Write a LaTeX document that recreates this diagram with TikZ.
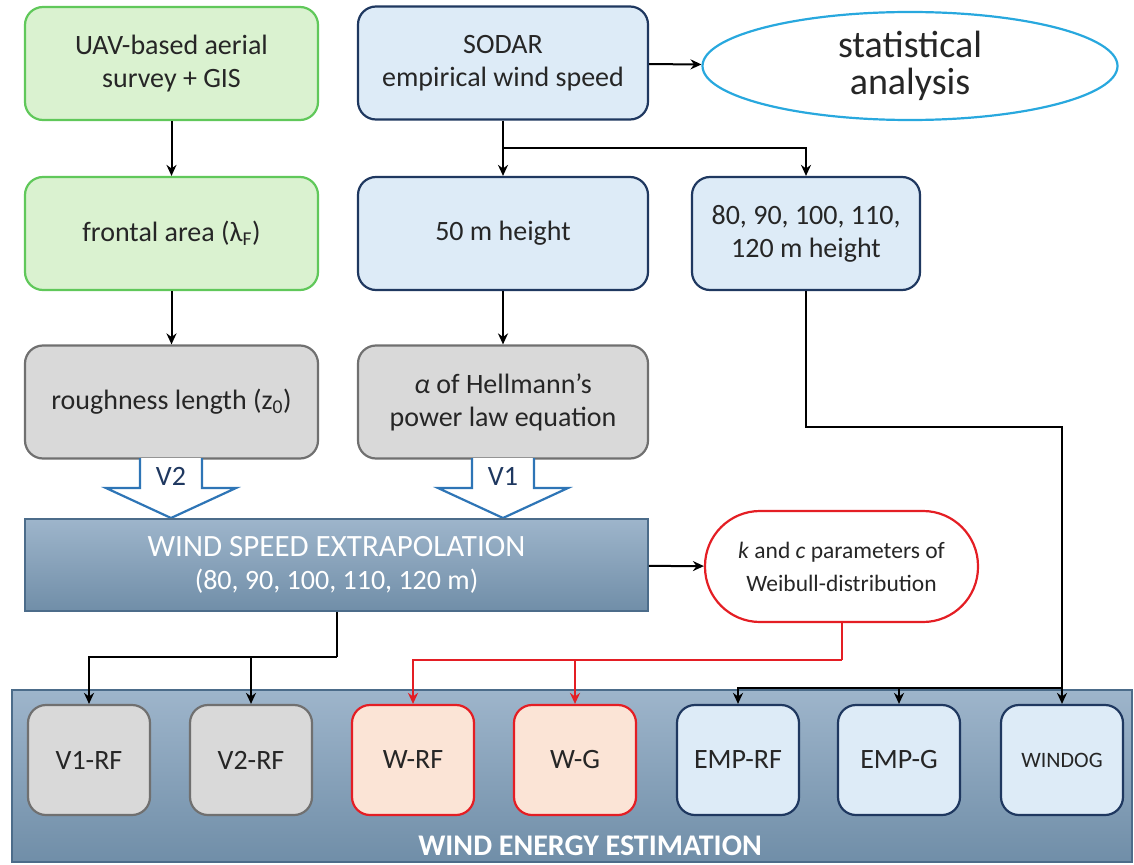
\documentclass[tikz,border=0pt]{standalone}
\usepackage{fontspec}
\setmainfont{Carlito}
\usetikzlibrary{arrows.meta,shapes.geometric}
\definecolor{grnfill}{RGB}{218,242,208}
\definecolor{grnline}{RGB}{96,200,90}
\definecolor{blufill}{RGB}{221,235,247}
\definecolor{bluline}{RGB}{31,56,96}
\definecolor{gryfill}{RGB}{217,217,217}
\definecolor{gryline}{RGB}{112,112,112}
\definecolor{redfill}{RGB}{251,228,214}
\definecolor{redline}{RGB}{228,30,36}
\definecolor{cyanline}{RGB}{40,168,222}
\definecolor{steeltop}{RGB}{158,181,203}
\definecolor{steelbot}{RGB}{112,142,168}
\definecolor{steelline}{RGB}{76,108,138}
\definecolor{hollowline}{RGB}{46,117,182}
\definecolor{txtgray}{RGB}{38,38,38}
\tikzset{
	box/.style = {rounded corners=18pt, line width=2.2pt, minimum width=293pt, minimum height=113pt,
		align=center, text=txtgray, font=\fontsize{28}{33}\selectfont},
	greenbox/.style = {box, fill=grnfill, draw=grnline},
	bluebox/.style = {box, fill=blufill, draw=bluline},
	graybox/.style = {box, fill=gryfill, draw=gryline},
	redbox/.style = {box, fill=redfill, draw=redline},
	smallbox/.style = {minimum width=122pt, minimum height=110pt},
	windogbox/.style = {bluebox, font=\fontsize{22}{26}\selectfont},
	steelbox/.style = {rectangle, top color=steeltop, bottom color=steelbot, draw=steelline, line width=1.5pt},
	conn/.style = {line width=2pt, -{Stealth[length=11pt, width=10pt]}},
	hollow/.style = {draw=hollowline, fill=white, line width=2.2pt, line join=miter}
}
\begin{document}
\begin{tikzpicture}[x=1pt, y=-1pt]
	\useasboundingbox (0,0) rectangle (1134,864);
	\node[steelbox, minimum width=1120pt, minimum height=172pt] (est) at (572,776) {};
	\node[text=white, font=\fontsize{30}{34}\selectfont\bfseries] (esttitle) at (590,846) {WIND ENERGY ESTIMATION};

	\node[greenbox] (uav) at (171.5,63.5) {UAV-based aerial\\survey + GIS};
	\node[bluebox, minimum width=290pt] (sodar) at (503,63) {SODAR\\empirical wind speed};
	\node[ellipse, draw=cyanline, fill=white, line width=2.2pt, minimum width=415pt, minimum height=108pt,
		align=center, text=txtgray, font=\fontsize{38}{37}\selectfont] (stat) at (910,66) {statistical\\analysis};
	\node[greenbox] (front) at (171.5,233.5) {frontal area (λ\textsubscript{F})};
	\node[bluebox, minimum width=290pt] (h50) at (503,233.5) {50 m height};
	\node[bluebox, minimum width=228pt] (hmulti) at (806,233.5) {80, 90, 100, 110,\\120 m height};
	\node[graybox] (rough) at (171.5,402) {roughness length (z\textsubscript{0})};
	\node[graybox, minimum width=290pt] (alpha) at (503,402) {\textit{α} of Hellmann’s\\power law equation};

	\foreach \x/\lbl in {171/V2, 503/V1} {
		\draw[hollow] (\x-31,458) -- (\x-31,488) -- (\x-65,488) -- (\x,518) -- (\x+65,488) -- (\x+31,488) -- (\x+31,458);
		\node[text=bluline, font=\fontsize{28}{30}\selectfont] (arr\lbl) at (\x,476) {\lbl};
	}

	\node[steelbox, minimum width=623pt, minimum height=92pt, align=center, text=white,
		font=\fontsize{28}{33}\selectfont] (extrap) at (336.5,565)
		{{\fontsize{31}{33}\selectfont WIND SPEED EXTRAPOLATION}\\(80, 90, 100, 110, 120 m)};
	\node[draw=redline, fill=white, line width=2.2pt, rounded corners=55pt, minimum width=273pt, minimum height=111pt,
		align=center, text=txtgray, font=\fontsize{23.5}{33}\selectfont] (weib) at (841.5,566.5) {\textit{k} and \textit{c} parameters of\\Weibull-distribution};

	\foreach \x/\name/\txt/\sty in {89/v1rf/V1-RF/graybox, 251/v2rf/V2-RF/graybox, 413/wrf/W-RF/redbox, 575/wg/W-G/redbox,
		738/emprf/EMP-RF/bluebox, 899/empg/EMP-G/bluebox, 1062/windog/WINDOG/windogbox}
		\node[\sty, smallbox] (\name) at (\x,760) {\txt};

	\draw[conn] (uav) -- (front);
	\draw[conn] (front) -- (rough);
	\draw[conn] (sodar) -- (stat);
	\coordinate (split) at (503,148);
	\draw[line width=2pt] (sodar.south) -- (split);
	\draw[conn] (split) -- (h50);
	\draw[conn] (split) -| (hmulti);
	\draw[conn] (h50) -- (alpha);
	\draw[conn] (extrap) -- (weib);

	\coordinate (xsplit) at (336.5,657);
	\draw[line width=2pt] (extrap.south) -- (xsplit);
	\draw[conn] (xsplit) -| (v1rf);
	\draw[conn] (xsplit) -| (v2rf);

	\coordinate (wsplit) at (841.5,660);
	\draw[line width=2pt, redline] (weib.south) -- (wsplit);
	\draw[conn, redline] (wsplit) -| (wrf);
	\draw[conn, redline] (wsplit) -| (wg);

	\coordinate (turn) at (806,427);
	\coordinate (esplit) at (1062,688);
	\draw[line width=2pt] (hmulti.south) -- (turn) -| (esplit);
	\draw[conn] (esplit) -- (windog);
	\draw[conn] (esplit) -| (emprf);
	\draw[conn] (esplit) -| (empg);
\end{tikzpicture}
\end{document}
